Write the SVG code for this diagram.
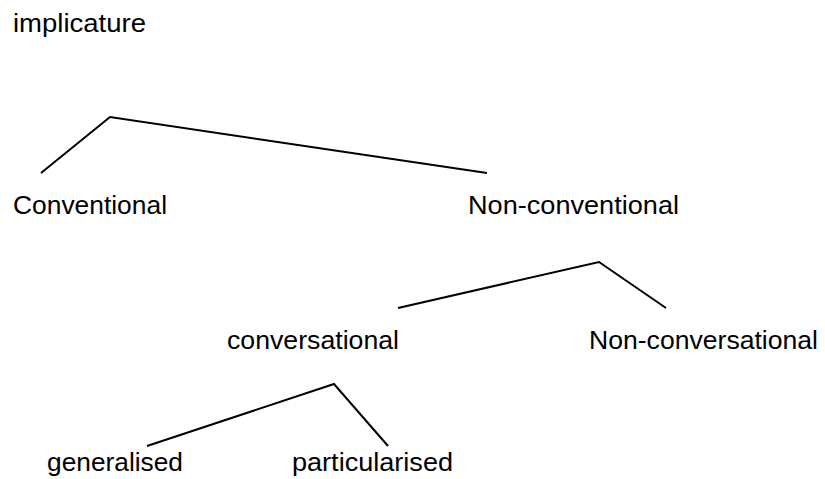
<svg xmlns="http://www.w3.org/2000/svg" width="825" height="479" viewBox="0 0 825 479">
<style>
text{font-family:"Liberation Sans",Arial,sans-serif;font-size:25px;fill:#000}
.c{fill:none;stroke:#000;stroke-width:2;stroke-linejoin:miter}
</style>
<rect width="825" height="479" fill="#fff"/>
<g id="connectors">
<polyline class="c" points="41,173 110,117 487,173"/>
<polyline class="c" points="398,308 599,262 666,308"/>
<polyline class="c" points="147,446 334,384 388,446"/>
</g>
<g id="n-implicature"><text x="13" y="32" textLength="133" lengthAdjust="spacingAndGlyphs">implicature</text></g>
<g id="n-conventional"><text x="13" y="214" textLength="154" lengthAdjust="spacingAndGlyphs">Conventional</text></g>
<g id="n-nonconventional"><text x="468" y="214" textLength="211" lengthAdjust="spacingAndGlyphs">Non-conventional</text></g>
<g id="n-conversational"><text x="227" y="349" textLength="172" lengthAdjust="spacingAndGlyphs">conversational</text></g>
<g id="n-nonconversational"><text x="589" y="349" textLength="229" lengthAdjust="spacingAndGlyphs">Non-conversational</text></g>
<g id="n-generalised"><text x="47" y="471" textLength="136" lengthAdjust="spacingAndGlyphs">generalised</text></g>
<g id="n-particularised"><text x="292" y="471" textLength="161" lengthAdjust="spacingAndGlyphs">particularised</text></g>
</svg>
